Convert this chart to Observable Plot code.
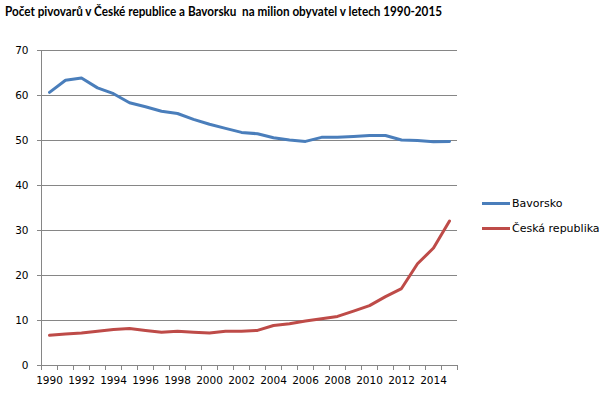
<!DOCTYPE html>
<html>
<head>
<meta charset="utf-8">
<script src="https://cdn.jsdelivr.net/npm/d3@7"></script>
<script src="https://cdn.jsdelivr.net/npm/@observablehq/plot@0.6"></script>
<style>
  html, body { margin: 0; padding: 0; background: #fff; }
  #wrap { position: relative; width: 600px; height: 396px; overflow: hidden; }
  #title { position: absolute; left: 5px; top: 2px; font-family: Lato, "Open Sans", sans-serif; font-weight: bold; font-size: 14px; color: #000; white-space: nowrap; transform-origin: 0 0; }
  #frame { position: absolute; left: 5px; top: 36px; width: 0; height: 360px; border-left: 1px solid #868686; }
  #chart { position: absolute; left: 0; top: 36px; }
  .leg { position: absolute; left: 482px; font-family: "DejaVu Sans", sans-serif; font-size: 11px; color: #000; white-space: nowrap; }
  .leg span.sw { display: inline-block; width: 28px; height: 3px; vertical-align: middle; margin-right: 2px; position: relative; top: -1px; }
</style>
</head>
<body>
<div id="wrap">
  <div id="title">Počet pivovarů v České republice a Bavorsku&nbsp; na milion obyvatel v letech 1990-2015</div>
  <div id="frame"></div>
  <div id="chart"></div>
  <div id="legend"></div>
</div>
<script>
const years = d3.range(1990, 2016);
const seriesNames = ["Bavorsko", "Česká republika"];
const colors = ["#4A7EBB", "#BE4B48"];
const bavorsko = [60.7, 63.4, 63.9, 61.7, 60.4, 58.4, 57.5, 56.5, 56.0, 54.7,
                  53.6, 52.7, 51.8, 51.5, 50.6, 50.1, 49.8, 50.7, 50.7, 50.9,
                  51.1, 51.1, 50.1, 50.0, 49.7, 49.8];
const ceskaRepublika = [6.7, 7.0, 7.2, 7.6, 8.0, 8.2, 7.8, 7.4, 7.6, 7.4,
                        7.2, 7.6, 7.6, 7.8, 8.9, 9.3, 9.9, 10.4, 10.9, 12.1,
                        13.3, 15.3, 17.1, 22.6, 26.1, 32.1];
const yTicks = [0, 10, 20, 30, 40, 50, 60, 70];
const xLabelYears = years.filter(y => y % 2 === 0);

const data = [];
years.forEach((y, i) => {
  data.push({year: y, value: bavorsko[i], series: seriesNames[0]});
  data.push({year: y, value: ceskaRepublika[i], series: seriesNames[1]});
});
const boundaries = [...years.map(y => y - 0.5), years[years.length - 1] + 0.5];

const grid = "#868686";
const plot = Plot.plot({
  width: 600,
  height: 360,
  marginTop: 14,
  marginBottom: 31,
  marginLeft: 41,
  marginRight: 143,
  style: {fontFamily: "DejaVu Sans, sans-serif", fontSize: "10.5px", color: "#000", background: "#fff"},
  x: {type: "linear", domain: [years[0] - 0.5, years[years.length - 1] + 0.5]},
  y: {domain: [0, 70]},
  color: {domain: seriesNames, range: colors},
  marks: [
    Plot.ruleY(yTicks.filter(t => t > 0), {stroke: grid, strokeWidth: 1}),
    Plot.axisY({ticks: yTicks, tickSize: 4, tickPadding: 9, stroke: grid, label: null, fill: "#000"}),
    Plot.axisX({ticks: boundaries, tickSize: 5, stroke: grid, tickFormat: () => "", label: null}),
    Plot.axisX({ticks: xLabelYears, tickSize: 0, tickPadding: 11, tickFormat: d => String(d), label: null, fill: "#000"}),
    Plot.ruleX([years[0] - 0.5], {stroke: grid}),
    Plot.ruleY([0], {stroke: grid}),
    Plot.line(data, {x: "year", y: "value", z: "series", stroke: "series", strokeWidth: 3, curve: "linear", strokeLinejoin: "round"})
  ]
});
document.getElementById("chart").appendChild(plot);

const legend = document.getElementById("legend");
seriesNames.forEach((name, i) => {
  const d = document.createElement("div");
  d.className = "leg";
  d.style.top = (197 + i * 25) + "px";
  d.innerHTML = `<span class="sw" style="background:${colors[i]}"></span>${name}`;
  legend.appendChild(d);
});

// fit the title to the reference width
const t = document.getElementById("title");
const w = t.getBoundingClientRect().width;
t.style.transform = `scaleX(${437 / w})`;
</script>
</body>
</html>
